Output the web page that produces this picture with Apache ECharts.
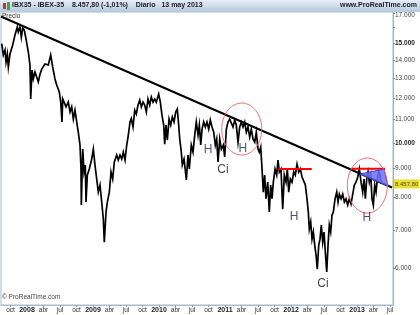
<!DOCTYPE html>
<html><head><meta charset="utf-8">
<script src="https://cdn.jsdelivr.net/npm/echarts@6/dist/echarts.min.js"></script>
<style>html,body{margin:0;padding:0;background:#fff}#c{width:420px;height:315px}</style>
</head><body><div id="c"></div>
<script>
// ---- data (dates as decimal years, values IBEX-35 points) ----
const dates = [
2007.617,2007.641,2007.667,2007.682,2007.702,2007.717,2007.742,2007.783,2007.818,2007.853,
2007.868,2007.894,2007.914,2007.935,2007.959,2007.985,2008.020,2008.045,2008.056,2008.076,
2008.095,2008.121,2008.147,2008.171,2008.197,2008.223,2008.247,2008.273,2008.298,2008.323,
2008.359,2008.389,2008.424,2008.450,2008.489,2008.511,2008.530,2008.541,2008.561,2008.591,
2008.626,2008.652,2008.677,2008.702,2008.727,2008.753,2008.777,2008.803,2008.818,2008.823,
2008.844,2008.864,2008.883,2008.894,2008.914,2008.944,2008.980,2009.005,2009.030,2009.056,
2009.080,2009.106,2009.132,2009.156,2009.171,2009.197,2009.217,2009.247,2009.273,2009.298,
2009.323,2009.359,2009.383,2009.409,2009.435,2009.459,2009.485,2009.511,2009.535,2009.561,
2009.580,2009.606,2009.632,2009.656,2009.682,2009.708,2009.732,2009.758,2009.783,2009.808,
2009.833,2009.859,2009.883,2009.909,2009.935,2009.959,2009.995,2010.020,2010.045,2010.071,
2010.086,2010.106,2010.126,2010.152,2010.177,2010.202,2010.227,2010.253,2010.277,2010.298,
2010.314,2010.338,2010.353,2010.379,2010.398,2010.414,2010.439,2010.459,2010.489,2010.515,
2010.541,2010.565,2010.591,2010.611,2010.632,2010.652,2010.677,2010.702,2010.727,2010.753,
2010.777,2010.803,2010.829,2010.853,2010.874,2010.894,2010.920,2010.944,2010.974,2010.995,
2011.020,2011.045,2011.071,2011.095,2011.121,2011.147,2011.171,2011.197,2011.223,2011.247,
2011.273,2011.298,2011.323,2011.348,2011.374,2011.398,2011.424,2011.450,2011.474,2011.500,
2011.520,2011.541,2011.561,2011.580,2011.601,2011.621,2011.647,2011.671,2011.692,2011.712,
2011.732,2011.758,2011.783,2011.803,2011.823,2011.848,2011.874,2011.898,2011.924,2011.944,
2011.965,2011.989,2012.015,2012.041,2012.065,2012.091,2012.117,2012.141,2012.167,2012.192,
2012.217,2012.242,2012.262,2012.277,2012.298,2012.318,2012.338,2012.359,2012.379,2012.398,
2012.420,2012.439,2012.459,2012.480,2012.500,2012.520,2012.541,2012.561,2012.580,2012.601,
2012.621,2012.641,2012.667,2012.692,2012.712,2012.732,2012.758,2012.783,2012.808,2012.833,
2012.859,2012.883,2012.909,2012.935,2012.959,2012.985,2013.011,2013.035,2013.061,2013.086,
2013.106,2013.126,2013.147,2013.167,2013.186,2013.208,2013.227,2013.247,2013.268,2013.288,
2013.308,2013.329,2013.348,2013.368
];
const prices = [
14990,14310,14610,13910,14370,13630,14370,14910,15530,16050,
15720,16050,15400,15980,15850,15280,14490,13740,11960,13460,
12980,13350,13080,12820,13240,13510,13460,13800,13910,13740,
14310,13630,12980,12660,12310,11810,10890,11960,11910,11580,
11810,11340,11580,11020,11430,10890,10450,9913,8990,7760,
9750,8880,9135,7855,8770,8990,9360,9750,9135,8630,
8180,8420,7855,7330,6670,7540,7855,8180,8880,8630,
9250,9516,9324,9516,9360,9630,9324,9913,10325,10890,
11040,10670,11430,11250,11670,11910,11580,11810,11670,11340,
11960,11670,12060,11810,11960,11810,12210,11810,11200,10755,
9950,10755,10116,11020,10755,11110,10890,11340,11480,10755,
10160,9630,9135,9360,8951,8593,9516,8990,9913,9630,
10325,10890,10325,10755,9913,10580,10890,10670,10890,10580,
10980,10670,10450,9913,10160,9250,10160,9750,9913,9440,
10580,10890,11020,11110,10670,10980,10755,10030,10670,10890,
10670,10890,10450,10670,10240,10580,10160,10030,10450,9750,
9630,9830,8990,8180,8770,7960,8520,7540,8420,7960,
8520,8990,8770,9324,8880,8990,7630,8770,8520,8990,
8180,8630,8520,8880,8770,9170,8880,8990,8700,8770,
8420,7960,7540,7035,7240,6750,6950,6590,6327,5975,
6590,6750,7151,6670,6950,6400,5903,6590,7151,6950,
7449,7540,7960,8180,7855,8115,7960,8115,7855,7960,
7760,7960,7790,8115,8420,8520,8700,8990,8520,8180,
8630,7960,8630,8880,8520,8770,7960,7760,8420,8180,
8630,8880,8770,8458
];
const lastPrice = 8457.80;
const yTicks = [6000,7000,8000,9000,10000,11000,12000,13000,14000,15000,16000,17000];
const yLabelValues = [6000,7000,8000,9000,10000,11000,12000,13000,14000,15000,17000];
const yBoldValues = [10000,15000];
const xTickValues = [2007.75,2008,2008.25,2008.5,2008.75,2009,2009.25,2009.5,2009.75,2010,2010.25,2010.5,2010.75,2011,2011.25,2011.5,2011.75,2012,2012.25,2012.5,2012.75,2013,2013.25,2013.5];
const xTickLabels = ['oct','2008','abr','jul','oct','2009','abr','jul','oct','2010','abr','jul','oct','2011','abr','jul','oct','2012','abr','jul','oct','2013','abr','jul'];
// annotations
const trendDates = [2007.606, 2013.530];
const trendValues = [16748, 8334];
const levelStart = [2011.808, 2012.920];
const levelEnd = [2012.314, 2013.424];
const levelValue = [8990, 9000];
const triangleDates = [2013.045, 2013.409, 2013.470];
const triangleValues = [8806, 8985, 8386];
const ellipseDateFrom = [2010.950, 2012.853];
const ellipseDateTo = [2011.556, 2013.459];
const ellipseValueTop = [11765, 9400];
const ellipseValueBottom = [9516, 7509];
const noteTexts = ['H','H','H','H','Ci','Ci'];
const noteDates = [2010.742, 2011.268, 2012.045, 2013.147, 2010.970, 2012.485];
const noteValues = [9712, 9750, 7390, 7360, 8951, 5621];

// ---- build ----
const FONT = '"Liberation Sans", Arial, sans-serif';
function fmtThousands(v){ return String(Math.round(v)).replace(/\B(?=(\d{3})+(?!\d))/g,'.'); }
const chart = echarts.init(document.getElementById('c'), null, {renderer:'canvas'});
const series = [];
series.push({type:'line', data: prices.map((v,i)=>[dates[i], v]), symbol:'none', lineStyle:{color:'#000', width:1.7, join:'miter'}, z:2, silent:true});
series.push({type:'line', data: trendDates.map((d,i)=>[d, trendValues[i]]), symbol:'none', lineStyle:{color:'#000', width:2}, z:4});
levelStart.forEach((d,i)=>{
  series.push({type:'line', data:[[d, levelValue[i]],[levelEnd[i], levelValue[i]]], symbol:'none', lineStyle:{color:'#ff0000', width:2}, z:5});
});
series.push({type:'custom', z:6, data:[triangleDates.map((d,i)=>[d, triangleValues[i]])],
  renderItem:function(params, api){
    const pts = triangleDates.map((d,i)=>api.coord([d, triangleValues[i]]));
    return {type:'polygon', shape:{points:pts}, style:{fill:'rgba(110,110,250,0.85)', stroke:'#4040e0', lineWidth:1}};
  }});
series.push({type:'custom', z:7, data: ellipseDateFrom.map((d,i)=>[d, ellipseDateTo[i], ellipseValueTop[i], ellipseValueBottom[i]]),
  renderItem:function(params, api){
    const p1 = api.coord([api.value(0), api.value(2)]);
    const p2 = api.coord([api.value(1), api.value(3)]);
    const cx=(p1[0]+p2[0])/2, cy=(p1[1]+p2[1])/2, rx=Math.abs(p2[0]-p1[0])/2, ry=Math.abs(p2[1]-p1[1])/2;
    const pts=[];
    for(let k=0;k<=96;k++){const a=k/96*Math.PI*2; pts.push([cx+rx*Math.cos(a), cy+ry*Math.sin(a)]);}
    return {type:'polyline', shape:{points:pts}, style:{fill:null, stroke:'#f06868', lineWidth:1}};
  }});
series.push({type:'scatter', z:8, symbolSize:0, clip:false, itemStyle:{color:'#1c2450'},
  data: noteTexts.map((t,i)=>({name:t, value:[noteDates[i], noteValues[i]],
    label:{color: t==='H' ? '#1c2450' : '#111'}})),
  label:{show:true, position:'inside', formatter:'{b}', fontSize:12, fontFamily:FONT, color:'#1c2450'}});
series.push({type:'scatter', z:9, symbolSize:0, clip:false,
  data:[{value:[2013.545, lastPrice]}],
  label:{show:true, position:'right', distance:1, formatter: ()=>{const s=lastPrice.toFixed(2).split('.'); return fmtThousands(+s[0])+','+s[1];},
    fontSize:6, fontFamily:FONT, color:'#222', backgroundColor:'#e9d400', padding:[2,1,1,1]}});

const option = {
  animation:false,
  backgroundColor:'#fff',
  grid:{left:1, right:27, top:12, bottom:10, show:true, borderColor:'#a8bccf', borderWidth:1},
  xAxis:{type:'value', min:2007.606, max:2013.545,
    axisLine:{show:true, lineStyle:{color:'#a8bccf'}},
    axisTick:{show:true, customValues:xTickValues, length:2, lineStyle:{color:'#999'}},
    axisLabel:{customValues:xTickValues, fontSize:6.5, fontFamily:FONT, color:'#333', margin:2,
      formatter:function(v){const i=xTickValues.findIndex(t=>Math.abs(t-v)<1e-6); const s=i>=0?xTickLabels[i]:''; return /^\d+$/.test(s)?'{b|'+s+'}':s;},
      rich:{b:{fontWeight:'bold', fontSize:7, fontFamily:FONT, color:'#222'}}},
    splitLine:{show:false}},
  yAxis:{type:'log', logBase:10, min:5160, max:17060, position:'right',
    axisLine:{show:true, lineStyle:{color:'#9db0c4'}},
    axisTick:{show:true, customValues:yTicks, length:2, lineStyle:{color:'#888'}},
    axisLabel:{customValues:yLabelValues, fontSize:6.5, fontFamily:FONT, color:'#444', margin:2,
      formatter:function(v){const r=Math.round(v); const s=fmtThousands(r); if(r===17000) return '{t|'+s+'}'; return yBoldValues.indexOf(r)>=0?'{b|'+s+'}':s;},
      rich:{b:{fontWeight:'bold', fontSize:6.5, fontFamily:FONT, color:'#222'}, t:{fontSize:6.5, fontFamily:FONT, color:'#444', padding:[5,0,0,0]}}},
    splitLine:{show:false}},
  graphic:[
    {type:'rect', left:0, top:0, shape:{width:420, height:12}, style:{fill:new echarts.graphic.LinearGradient(0,0,0,1,[{offset:0,color:'#e6eef6'},{offset:1,color:'#b6c8da'}])}, z:10},
    {type:'rect', left:3, top:3, shape:{width:3, height:6}, style:{fill:'#d03030'}, z:11},
    {type:'rect', left:7, top:2, shape:{width:3, height:8}, style:{fill:'#30b030'}, z:11},
    {type:'text', left:12, top:2, style:{text:'IBX35 - IBEX-35    8.457,80 (-1,01%)    Diario   13 may 2013', font:'bold 7px '+FONT, fill:'#1a1a2a'}, z:11},
    {type:'text', right:3, top:2, style:{text:'www.ProRealTime.com', font:'bold 7px '+FONT, fill:'#1a1a2a'}, z:11},
    {type:'text', left:2, top:13, style:{text:'Precio', font:'6.5px '+FONT, fill:'#333'}, z:11},
    {type:'text', left:2, top:294, style:{text:'© ProRealTime.com', font:'6.5px '+FONT, fill:'#444'}, z:11}
  ],
  series: series
};
chart.setOption(option);
</script></body></html>
